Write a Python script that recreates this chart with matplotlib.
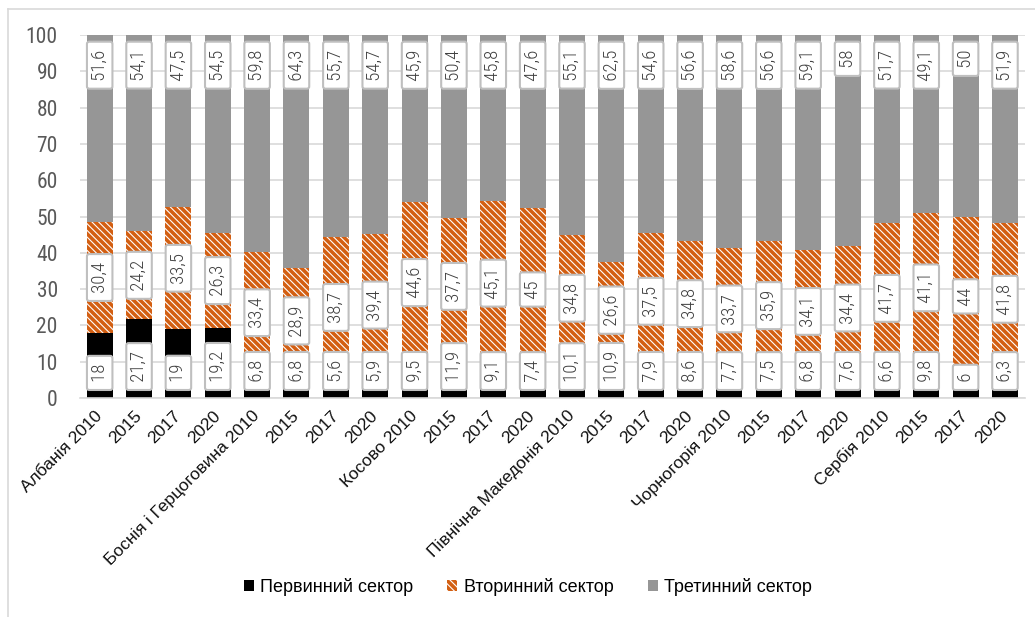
import matplotlib.pyplot as plt
from matplotlib.lines import Line2D

plt.rcParams['hatch.linewidth'] = 2.6
plt.rcParams['hatch.color'] = '#D35F12'

rotulos = ['Албанія 2010', '2015', '2017', '2020',
           'Боснія і Герцоговина 2010', '2015', '2017', '2020',
           'Косово 2010', '2015', '2017', '2020',
           'Північна Македонія 2010', '2015', '2017', '2020',
           'Чорногорія 2010', '2015', '2017', '2020',
           'Сербія 2010', '2015', '2017', '2020']
primario = [18, 21.7, 19, 19.2, 6.8, 6.8, 5.6, 5.9, 9.5, 11.9, 9.1, 7.4,
            10.1, 10.9, 7.9, 8.6, 7.7, 7.5, 6.8, 7.6, 6.6, 9.8, 6, 6.3]
secundario = [30.4, 24.2, 33.5, 26.3, 33.4, 28.9, 38.7, 39.4, 44.6, 37.7, 45.1, 45,
              34.8, 26.6, 37.5, 34.8, 33.7, 35.9, 34.1, 34.4, 41.7, 41.1, 44, 41.8]
terciario = [51.6, 54.1, 47.5, 54.5, 59.8, 64.3, 55.7, 54.7, 45.9, 50.4, 45.8, 47.6,
             55.1, 62.5, 54.6, 56.6, 58.6, 56.6, 59.1, 58, 51.7, 49.1, 50, 51.9]
series = ['Первинний сектор', 'Вторинний сектор', 'Третинний сектор']

fonte_estreita = ['Roboto Condensed', 'Liberation Sans Narrow', 'Roboto']
cinza_grade = '#D9D9D9'

fig = plt.figure(figsize=(10.35, 6.17), dpi=100)
ax = fig.add_axes([0.0773, 0.355, 0.9127, 0.588])

x = range(len(rotulos))
base2 = primario
base3 = [p + s for p, s in zip(primario, secundario)]

b1 = ax.bar(x, primario, width=0.66, color='black', label=series[0], zorder=2)
b2 = ax.bar(x, secundario, bottom=base2, width=0.66, color='white', edgecolor='#D35F12',
            linewidth=0, hatch='\\\\\\\\\\', label=series[1], zorder=2)
b3 = ax.bar(x, terciario, bottom=base3, width=0.66, color='#969696', label=series[2], zorder=2)

def fmt(v):
    return f'{v:g}'.replace('.', ',')

tam = 13.5
pad = 0.2
caixa = dict(boxstyle=f'round,pad={pad},rounding_size=0.12', facecolor='white',
             edgecolor='#BFBFBF', linewidth=1.5)
pad_pt = pad * tam
for i in x:
    estilo = dict(rotation=90, ha='center', fontsize=tam, color='#404040', fontweight='light',
                  family=fonte_estreita, bbox=caixa, textcoords='offset points', zorder=4)
    ax.annotate(f' {fmt(primario[i])} ', (i, 2.2), xytext=(0, pad_pt), va='bottom', **estilo)
    ax.annotate(f' {fmt(secundario[i])} ', (i, base2[i] + secundario[i] / 2), xytext=(0, 0),
                va='center', **estilo)
    ax.annotate(f' {fmt(terciario[i])} ', (i, 98.2), xytext=(0, -pad_pt), va='top', **estilo)

ax.set_xlim(-0.5, len(rotulos) - 0.5)
ax.set_ylim(0, 100)
ax.set_yticks(range(0, 101, 10))
ax.grid(axis='y', color=cinza_grade, linewidth=1.2, zorder=0)
ax.set_axisbelow(True)
for lado in ['top', 'right', 'left']:
    ax.spines[lado].set_visible(False)
ax.spines['bottom'].set_color(cinza_grade)
ax.spines['bottom'].set_linewidth(1.2)

ax.set_xticks(list(x))
ax.set_xticklabels(rotulos, rotation=45, ha='right', va='center', rotation_mode='anchor',
                   fontsize=12.5, family='Liberation Sans', color='#111111')
ax.tick_params(axis='x', length=0, pad=11)
ax.tick_params(axis='y', length=0, pad=16, labelsize=15.5, labelcolor='#595959')
for t in ax.get_yticklabels():
    t.set_family(fonte_estreita)

fig.legend(handles=[b1, b2, b3], loc='center', bbox_to_anchor=(0.51, 0.049), ncol=3,
           frameon=False, prop={'family': 'Liberation Sans', 'size': 13},
           handlelength=0.55, handleheight=0.55, handletextpad=0.35, columnspacing=1.9)

# moldura do gráfico
fig.add_artist(Line2D([8 / 1035, 1], [1 - 9 / 617] * 2, transform=fig.transFigure,
                      color=cinza_grade, linewidth=1.2))
fig.add_artist(Line2D([8 / 1035] * 2, [0, 1 - 9 / 617], transform=fig.transFigure,
                      color=cinza_grade, linewidth=1.2))

fig.savefig('out.png', dpi=100)
